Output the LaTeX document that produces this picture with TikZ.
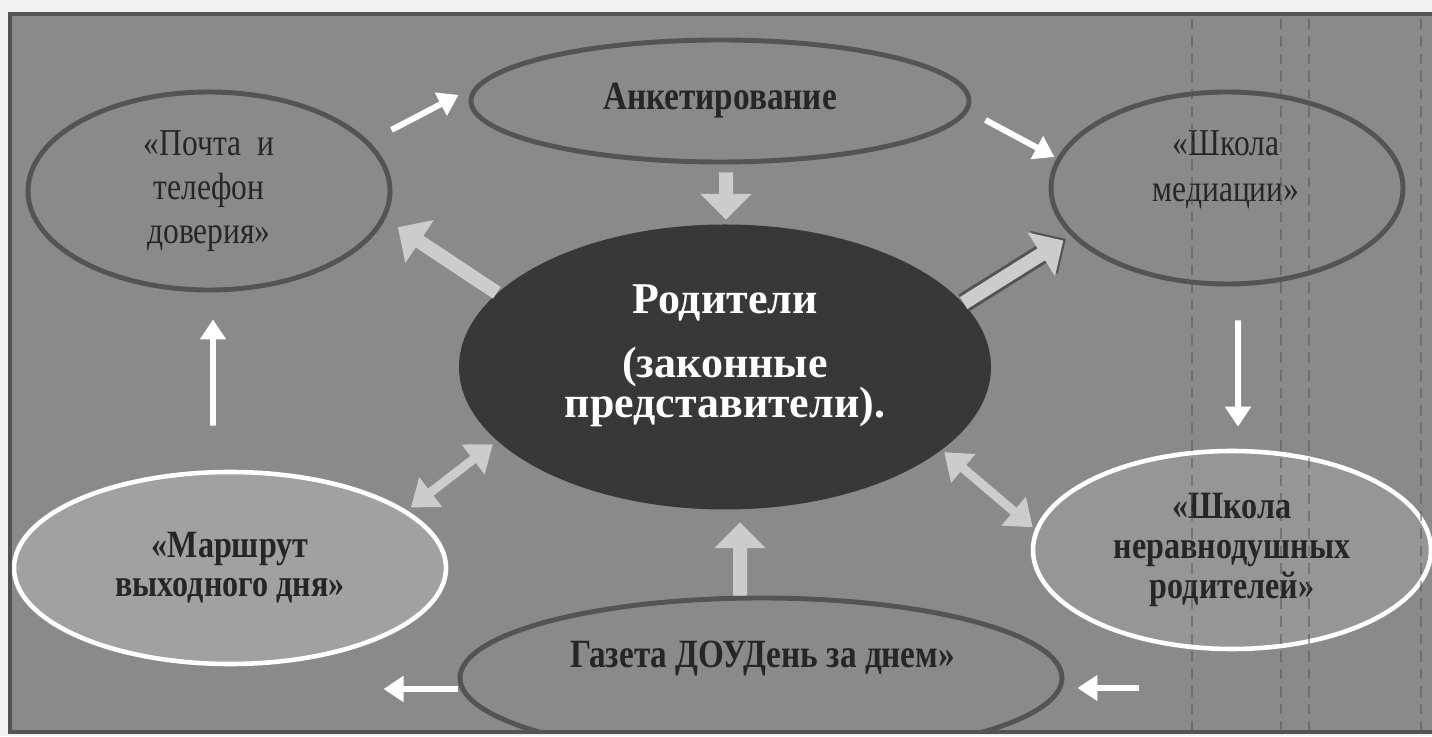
\documentclass[tikz,border=0pt]{standalone}
\usepackage{fontspec}
\setmainfont{Liberation Serif}
\newfontfamily\narrowserif{Liberation Serif}[FakeStretch=0.83]
\usetikzlibrary{arrows.meta,shapes.geometric}
\definecolor{bggray}{gray}{0.54}
\definecolor{rimgray}{gray}{0.33}
\definecolor{txtgray}{gray}{0.15}
\definecolor{darkgray}{gray}{0.22}
\definecolor{arrgray}{gray}{0.80}
\definecolor{pagegray}{gray}{0.95}
\definecolor{marshfill}{gray}{0.63}
\definecolor{neravfill}{gray}{0.59}
\begin{document}
\begin{tikzpicture}[
  ell/.style={ellipse, draw=rimgray, line width=1.4pt, fill=bggray, inner sep=0pt,
    align=center, text=txtgray},
  wring/.style={ellipse, draw=white, line width=1.3pt, inner sep=0pt, align=center,
    text=txtgray},
  bold/.style={font=\narrowserif\fontsize{11.4}{12.6}\selectfont\bfseries},
  plain/.style={font=\narrowserif\fontsize{10.8}{12.6}\selectfont},
  warrow/.style={draw=white, line width=1.7pt, -{Triangle[width=0.25cm,length=0.2cm]}},
  barrow/.style={draw=arrgray, line width=0.14cm, -{Triangle[width=0.5cm,length=0.26cm]}},
  darrow/.style={draw=arrgray, line width=0.09cm,
    {Triangle[width=0.36cm,length=0.25cm]}-{Triangle[width=0.36cm,length=0.25cm]}}
]
\useasboundingbox (0,0) rectangle (14.32,7.36);
\fill[pagegray] (0,0) rectangle (14.32,7.36);
\fill[bggray] (0.09,0.03) rectangle (14.45,7.23);

\begin{scope}
\clip (0.09,0.03) rectangle (14.45,7.23);
\node[ell, bold, minimum width=4.98cm, minimum height=1.22cm] (ank) at (7.20,6.35) {Анкетирование};
\node[ell, plain, minimum width=3.62cm, minimum height=1.98cm] (pochta) at (2.09,5.45) {«Почта \ и\\телефон\\доверия»};
\node[ell, minimum width=3.52cm, minimum height=1.92cm] (med) at (12.27,5.48) {};
\node[plain, text=txtgray, align=center, font=\narrowserif\fontsize{10.8}{13}\selectfont] (medtxt) at (12.26,5.66) {«Школа\\медиации»};
\node[ellipse, fill=darkgray, inner sep=0pt, minimum width=5.32cm, minimum height=2.85cm] (rod) at (7.25,3.69) {};
\node[align=center, text=white, font=\fontsize{12.5}{11.4}\selectfont\bfseries] (rodtxt) at (7.25,3.80)
  {Родители\\[0.24cm](законные\\представители).};
\node[wring, bold, fill=marshfill, minimum width=4.32cm, minimum height=1.92cm,
  font=\narrowserif\fontsize{11}{11.1}\selectfont\bfseries] (marsh) at (2.30,1.68) {«Маршрут\\выходного дня»};
\node[ell, minimum width=6.02cm, minimum height=1.60cm] (gaz) at (7.61,0.58) {};
\node[bold, text=txtgray, anchor=base] (gaztxt) at (7.63,0.69) {Газета ДОУДень за днем»};
\node[wring, bold, fill=neravfill, minimum width=3.98cm, minimum height=1.98cm,
  font=\narrowserif\fontsize{11}{11.4}\selectfont\bfseries] (nerav) at (12.32,1.86) {«Школа\\неравнодушных\\родителей»};
\end{scope}

\draw[rimgray, line width=0.035cm] (0.10,0.04) rectangle (14.48,7.22);

\draw[warrow] ([shift={(0.22,0.12)}]pochta.17) -- ++(0.67,0.35);
\draw[warrow] ([shift={(0.14,-0.19)}]ank.east) -- ++(0.69,-0.37);
\draw[warrow, shorten <=0.34cm, shorten >=0.22cm] ([xshift=1.1mm]med.south) -- ([xshift=0.6mm]nerav.north);
\draw[warrow, shorten <=0.44cm, shorten >=0.27cm] ([xshift=-1.7mm]marsh.north) -- ([xshift=0.4mm]pochta.south);
\draw[warrow] ([yshift=-1.1mm]gaz.west) -- ++(-0.74,0);
\draw[warrow] ([shift={(0.75,-0.10)}]gaz.east) -- ++(-0.62,0);

\draw[barrow, shorten <=0.08cm, shorten >=0.04cm] ([xshift=0.6mm]ank.south) -- ([xshift=0.1mm]rod.north);
\draw[barrow, shorten >=0.12cm] ([xshift=-2.1mm]gaz.north) -- ([xshift=1.5mm]rod.south);
\draw[barrow, shorten >=0.15cm] (rod.162) -- (pochta.351);
\draw[barrow, draw=rimgray, line width=0.2cm, shorten >=0.06cm] (rod.15) -- (med.197);
\draw[barrow, shorten >=0.09cm] (rod.15) -- (med.197);
\draw[darrow, shorten <=0.05cm, shorten >=0.05cm] (marsh.18) -- (rod.198);
\draw[darrow, shorten <=0.03cm, shorten >=0.03cm] (rod.-21) -- (nerav.174);

\foreach \x in {11.92,12.81,13.09,14.21}
  \draw[rimgray, opacity=0.5, line width=0.6pt, densely dashed] (\x,0.04) -- (\x,7.22);
\end{tikzpicture}
\end{document}
